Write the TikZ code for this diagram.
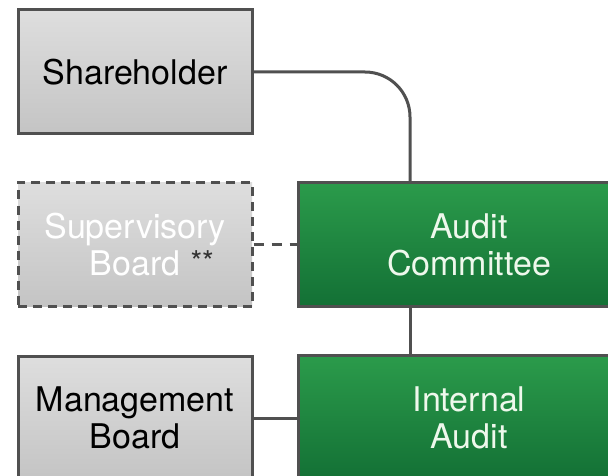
\documentclass[tikz,border=0pt]{standalone}
\usepackage{fontspec}
\setmainfont{TeX Gyre Heros}
\usetikzlibrary{positioning}

\definecolor{boxline}{HTML}{505050}
\definecolor{greytop}{HTML}{DEDEDE}
\definecolor{greybot}{HTML}{C4C4C4}
\definecolor{greentop}{HTML}{2B9B4B}
\definecolor{greenbot}{HTML}{137035}
\definecolor{greentext}{HTML}{EEF8EC}

\tikzset{
  orgbox/.style={draw=boxline,line width=3pt,align=center,
    minimum width=234pt,minimum height=124pt,inner sep=0pt,
    font=\fontsize{34}{37}\selectfont},
  greybox/.style={orgbox,top color=greytop,bottom color=greybot,text=black},
  dashbox/.style={greybox,dash pattern=on 9pt off 6pt,text=white},
  greenbox/.style={orgbox,minimum width=342pt,top color=greentop,
    bottom color=greenbot,text=greentext},
  link/.style={draw=boxline,line width=3pt}
}

\begin{document}
\begin{tikzpicture}[x=1pt,y=1pt]
\clip (0,0) rectangle (608,-476);
\fill[white] (0,0) rectangle (608,-476);

\node[greybox] (share) at (135,-72) {Shareholder};
\node[dashbox] (super) at (135,-244.5) {Supervisory\\Board\rlap{\hspace{0.3em}\textcolor{black!80}{\raisebox{3pt}{\fontsize{30}{30}\selectfont **}}}};
\node[greybox] (mgmt) at (135,-418) {Management\\Board};
\node[greenbox] (audit) at (469,-244.5) {Audit\\Committee};
\node[greenbox,minimum height=126pt] (internal) at (469,-418) {Internal\\Audit};

\coordinate (acin) at ([xshift=-59pt]audit.north);
\draw[link,rounded corners=45pt] (share.east) -| (acin);
\draw[link] ([xshift=-59pt]audit.south) -- ([xshift=-59pt]internal.north);
\draw[link,dash pattern=on 10pt off 8pt] (super.east) -- (audit.west);
\draw[link] (mgmt.east) -- (internal.west);
\end{tikzpicture}
\end{document}
